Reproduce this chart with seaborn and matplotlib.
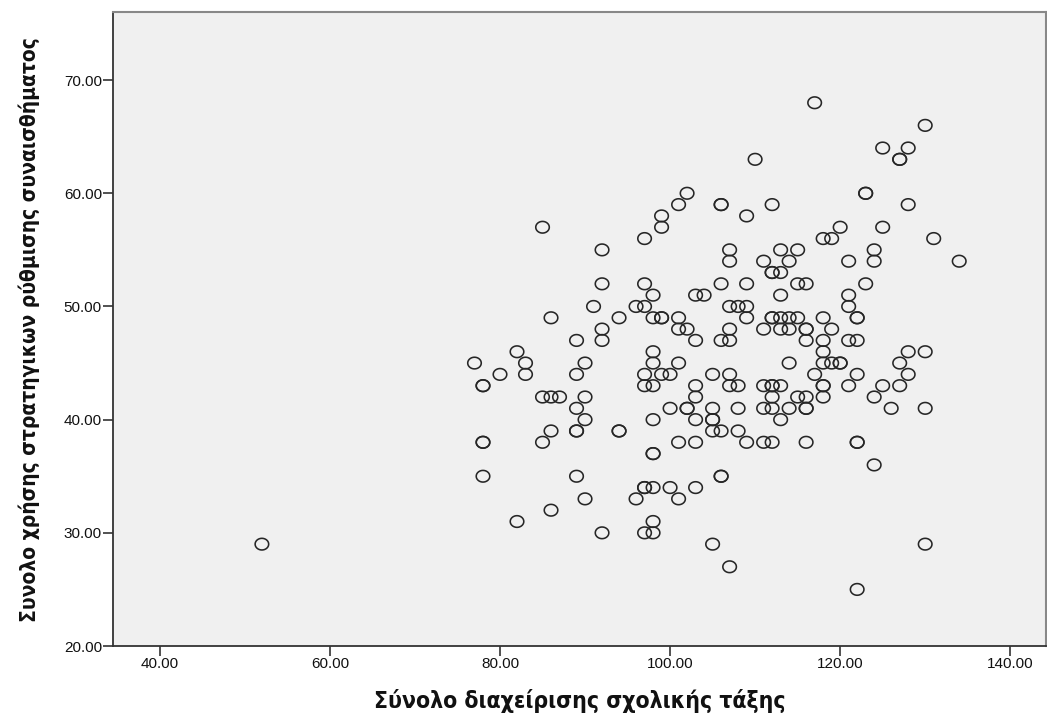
import numpy as np
import pandas as pd
import seaborn as sns
import matplotlib.pyplot as plt
from matplotlib.path import Path

# Scatter of class-management total vs emotion-regulation strategies total
# (duplicates listed twice)

class_mgmt = [
    102, 101, 99, 99, 97, 85, 92, 92, 97, 98, 91, 96, 97, 103, 104, 86, 94, 98, 99, 99,
    101, 101, 102, 92, 89, 92, 103,
    117, 130, 125, 128, 127, 127, 110, 123, 123, 106, 106, 112, 128, 109, 120, 125, 118,
    119, 131, 107, 113, 115, 124, 107, 111, 114, 121, 124, 134, 112, 112, 113, 106, 109,
    115, 116, 123, 113, 121, 107, 108, 109, 121, 109, 112, 112, 113, 114, 115, 118, 122,
    122, 107, 111, 113, 114, 116, 116, 119, 106, 107, 116, 118, 121, 122,
    82, 98, 77, 83, 90, 98, 101, 80, 83, 89, 97, 99, 100, 105, 78, 78, 97, 98, 103, 85,
    86, 87, 90, 103, 89, 100, 102, 102, 105, 90, 98, 103, 105, 105, 86, 89, 89, 94, 94,
    105, 78, 78, 85, 101, 103, 98, 98, 78, 89, 97, 97, 98, 100, 103, 90, 96, 101, 86, 82,
    98, 92, 97, 98, 105,
    118, 128, 130, 114, 118, 119, 120, 120, 127, 107, 117, 122, 128, 107, 108, 111, 112,
    112, 113, 118, 118, 121, 125, 127, 112, 115, 116, 118, 124, 108, 111, 112, 114, 116,
    116, 126, 130, 113, 106, 108, 109, 111, 112, 116, 122, 122, 124, 106, 106, 130, 107,
    122,
    52,
]

emotion_reg = [
    60, 59, 58, 57, 56, 57, 55, 52, 52, 51, 50, 50, 50, 51, 51, 49, 49, 49, 49, 49,
    49, 48, 48, 48, 47, 47, 47,
    68, 66, 64, 64, 63, 63, 63, 60, 60, 59, 59, 59, 59, 58, 57, 57, 56,
    56, 56, 55, 55, 55, 55, 54, 54, 54, 54, 54, 54, 53, 53, 53, 52, 52,
    52, 52, 52, 51, 51, 50, 50, 50, 50, 49, 49, 49, 49, 49, 49, 49, 49,
    49, 48, 48, 48, 48, 48, 48, 48, 47, 47, 47, 47, 47, 47,
    46, 46, 45, 45, 45, 45, 45, 44, 44, 44, 44, 44, 44, 44, 43, 43, 43, 43, 43, 42,
    42, 42, 42, 42, 41, 41, 41, 41, 41, 40, 40, 40, 40, 40, 39, 39, 39, 39, 39,
    39, 38, 38, 38, 38, 38, 37, 37, 35, 35, 34, 34, 34, 34, 34, 33, 33, 33, 32, 31,
    31, 30, 30, 30, 29,
    46, 46, 46, 45, 45, 45, 45, 45, 45, 44, 44, 44, 44, 43, 43, 43, 43,
    43, 43, 43, 43, 43, 43, 43, 42, 42, 42, 42, 42, 41, 41, 41, 41, 41,
    41, 41, 41, 40, 39, 39, 38, 38, 38, 38, 38, 38, 36, 35, 35, 29, 27,
    25,
    29,
]

df = pd.DataFrame({"x": class_mgmt, "y": emotion_reg})

sns.set_style("white")
plt.rcParams["font.family"] = ["Liberation Sans", "DejaVu Sans"]

# slightly flattened ring, like the SPSS marker
t = np.linspace(0, 2 * np.pi, 60)
ring = Path(np.column_stack([np.cos(t), 0.86 * np.sin(t)]), closed=True)

fig = plt.figure(figsize=(10.47, 7.17), dpi=100)
ax = fig.add_axes([0.108, 0.099, 0.891, 0.884])
ax.set_facecolor("#f0f0f0")

sns.scatterplot(data=df, x="x", y="y", ax=ax, marker=ring, s=95,
                facecolors="none", edgecolor="#262626", linewidth=1.15)

ax.set_xlim(34.5, 144.2)
ax.set_ylim(20, 76)
ax.set_xticks([40, 60, 80, 100, 120, 140])
ax.set_yticks([20, 30, 40, 50, 60, 70])
ax.set_xticklabels([f"{v:.2f}" for v in [40, 60, 80, 100, 120, 140]])
ax.set_yticklabels([f"{v:.2f}" for v in [20, 30, 40, 50, 60, 70]])
ax.tick_params(axis="both", direction="out", length=7, width=1.2, color="#333333",
               labelsize=11, pad=1, bottom=True, left=True, labelcolor="#111111")

for side in ["left", "bottom"]:
    ax.spines[side].set_color("#333333")
    ax.spines[side].set_linewidth(1.3)
for side in ["top", "right"]:
    ax.spines[side].set_color("#888888")
    ax.spines[side].set_linewidth(1.5)

ax.set_xlabel("Σύνολο διαχείρισης σχολικής τάξης", fontsize=16.5, fontweight="bold",
              family="DejaVu Sans", fontstretch="condensed", color="#111111", labelpad=13)
ax.set_ylabel("Συνολο χρήσης στρατηγικων ρύθμισης συναισθήματος", fontsize=15,
              fontweight="bold", family="DejaVu Sans", fontstretch="condensed",
              color="#111111", labelpad=17)

fig.savefig("out.png", dpi=100)
